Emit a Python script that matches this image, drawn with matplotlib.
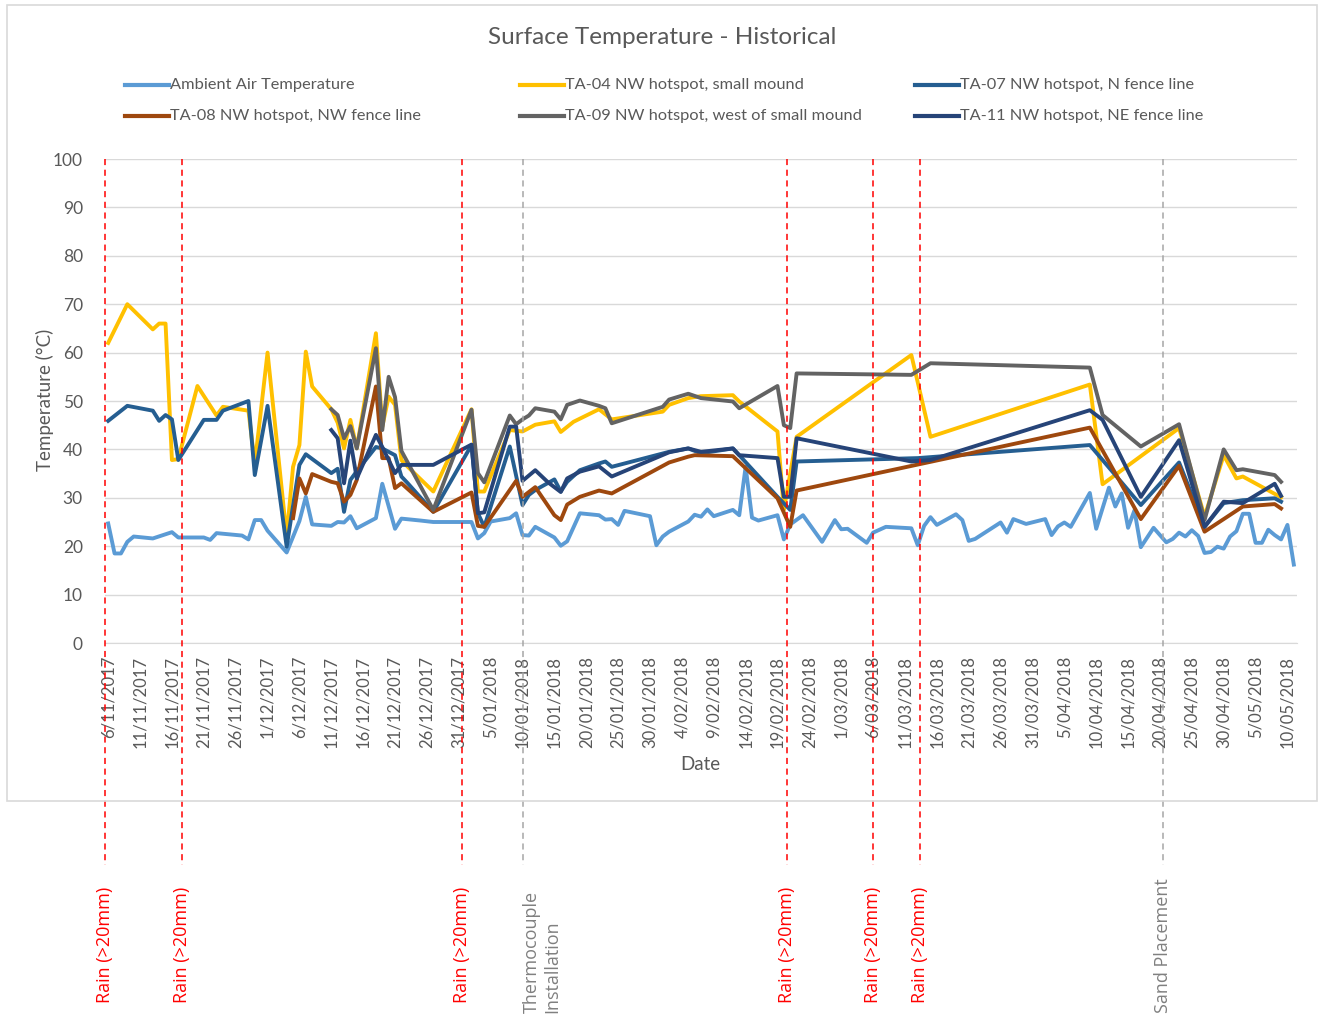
"""Surface temperature history with rain / site event markers."""

import matplotlib
matplotlib.use("Agg")
import matplotlib.pyplot as plt
import matplotlib.dates as mdates
import matplotlib.transforms as mtransforms
from matplotlib.lines import Line2D
from matplotlib.patches import Rectangle
import pandas as pd

plt.rcParams["font.family"] = ["Lato", "DejaVu Sans"]

W, H = 1320, 1015
TEXT_GREY = "#595959"

# --- data (date, deg C) ---
ambient = [
    ("2017-11-06", 24.7), ("2017-11-07", 18.5), ("2017-11-08", 18.5), ("2017-11-09", 20.9),
    ("2017-11-10", 22.0), ("2017-11-13", 21.6), ("2017-11-16", 22.9), ("2017-11-17", 21.8),
    ("2017-11-21", 21.8), ("2017-11-22", 21.3), ("2017-11-23", 22.7), ("2017-11-27", 22.2),
    ("2017-11-28", 21.4), ("2017-11-29", 25.4), ("2017-11-30", 25.4), ("2017-12-01", 23.2),
    ("2017-12-04", 18.7), ("2017-12-06", 25.2), ("2017-12-07", 30.2), ("2017-12-08", 24.5),
    ("2017-12-11", 24.2), ("2017-12-12", 25.0), ("2017-12-13", 24.9), ("2017-12-14", 26.2),
    ("2017-12-15", 23.7), ("2017-12-18", 25.8), ("2017-12-19", 32.9), ("2017-12-21", 23.6),
    ("2017-12-22", 25.7), ("2017-12-25", 25.3), ("2017-12-27", 25.0), ("2018-01-02", 25.0),
    ("2018-01-03", 21.6), ("2018-01-04", 22.7), ("2018-01-05", 25.1), ("2018-01-08", 25.8),
    ("2018-01-09", 26.8), ("2018-01-10", 22.3), ("2018-01-11", 22.2), ("2018-01-12", 24.0),
    ("2018-01-15", 21.8), ("2018-01-16", 20.1), ("2018-01-17", 21.0), ("2018-01-19", 26.8),
    ("2018-01-22", 26.4), ("2018-01-23", 25.5), ("2018-01-24", 25.6), ("2018-01-25", 24.4),
    ("2018-01-26", 27.3), ("2018-01-30", 26.2), ("2018-01-31", 20.2), ("2018-02-01", 22.0),
    ("2018-02-02", 23.0), ("2018-02-05", 25.1), ("2018-02-06", 26.5), ("2018-02-07", 26.1),
    ("2018-02-08", 27.6), ("2018-02-09", 26.2), ("2018-02-12", 27.5), ("2018-02-13", 26.4),
    ("2018-02-14", 36.4), ("2018-02-15", 25.9), ("2018-02-16", 25.3), ("2018-02-19", 26.4),
    ("2018-02-20", 21.4), ("2018-02-21", 24.5), ("2018-02-23", 26.4), ("2018-02-26", 20.9),
    ("2018-02-28", 25.4), ("2018-03-01", 23.5), ("2018-03-02", 23.6), ("2018-03-05", 20.7),
    ("2018-03-06", 22.8), ("2018-03-08", 24.0), ("2018-03-12", 23.7), ("2018-03-13", 20.2),
    ("2018-03-14", 24.2), ("2018-03-15", 26.0), ("2018-03-16", 24.4), ("2018-03-19", 26.6),
    ("2018-03-20", 25.4), ("2018-03-21", 21.1), ("2018-03-22", 21.5), ("2018-03-26", 24.9),
    ("2018-03-27", 22.8), ("2018-03-28", 25.6), ("2018-03-30", 24.6), ("2018-04-02", 25.6),
    ("2018-04-03", 22.3), ("2018-04-04", 24.1), ("2018-04-05", 24.9), ("2018-04-06", 24.0),
    ("2018-04-09", 31.0), ("2018-04-10", 23.6), ("2018-04-12", 32.1), ("2018-04-13", 28.2),
    ("2018-04-14", 30.9), ("2018-04-15", 23.8), ("2018-04-16", 27.4), ("2018-04-17", 19.8),
    ("2018-04-19", 23.8), ("2018-04-21", 20.8), ("2018-04-22", 21.5), ("2018-04-23", 22.8),
    ("2018-04-24", 22.0), ("2018-04-25", 23.3), ("2018-04-26", 22.1), ("2018-04-27", 18.6),
    ("2018-04-28", 18.8), ("2018-04-29", 19.9), ("2018-04-30", 19.5), ("2018-05-01", 22.0),
    ("2018-05-02", 23.1), ("2018-05-03", 26.7), ("2018-05-04", 26.7), ("2018-05-05", 20.7),
    ("2018-05-06", 20.7), ("2018-05-07", 23.4), ("2018-05-08", 22.3), ("2018-05-09", 21.4),
    ("2018-05-10", 24.4), ("2018-05-11", 16.2),
]

ta04 = [
    ("2017-11-06", 62.0), ("2017-11-09", 70.0), ("2017-11-13", 64.8), ("2017-11-14", 66.0),
    ("2017-11-15", 66.0), ("2017-11-16", 37.8), ("2017-11-17", 38.0), ("2017-11-20", 53.1),
    ("2017-11-23", 47.0), ("2017-11-24", 48.8), ("2017-11-28", 48.0), ("2017-11-29", 37.0),
    ("2017-12-01", 60.0), ("2017-12-04", 22.0), ("2017-12-05", 36.4), ("2017-12-06", 40.9),
    ("2017-12-07", 60.2), ("2017-12-08", 53.0), ("2017-12-11", 48.3), ("2017-12-12", 45.5),
    ("2017-12-13", 40.2), ("2017-12-14", 46.1), ("2017-12-15", 40.2), ("2017-12-18", 64.0),
    ("2017-12-19", 44.7), ("2017-12-20", 50.9), ("2017-12-21", 49.2), ("2017-12-22", 37.8),
    ("2017-12-23", 36.4), ("2017-12-27", 31.3), ("2018-01-02", 48.3), ("2018-01-03", 31.3),
    ("2018-01-04", 31.3), ("2018-01-08", 44.0), ("2018-01-10", 43.7), ("2018-01-12", 45.1),
    ("2018-01-15", 45.8), ("2018-01-16", 43.6), ("2018-01-18", 45.7), ("2018-01-22", 48.3),
    ("2018-01-24", 46.2), ("2018-02-01", 47.8), ("2018-02-02", 49.2), ("2018-02-05", 50.6),
    ("2018-02-07", 51.0), ("2018-02-12", 51.2), ("2018-02-13", 49.9), ("2018-02-19", 43.7),
    ("2018-02-20", 27.5), ("2018-02-22", 42.6), ("2018-03-12", 59.5), ("2018-03-15", 42.6),
    ("2018-04-09", 53.4), ("2018-04-11", 32.8), ("2018-04-23", 44.4), ("2018-04-27", 26.1),
    ("2018-04-30", 38.8), ("2018-05-02", 34.0), ("2018-05-03", 34.4), ("2018-05-09", 30.1),
]

ta07 = [
    ("2017-11-06", 45.9), ("2017-11-09", 49.0), ("2017-11-13", 48.0), ("2017-11-14", 45.9),
    ("2017-11-15", 47.1), ("2017-11-16", 46.2), ("2017-11-17", 37.8), ("2017-11-21", 46.1),
    ("2017-11-23", 46.1), ("2017-11-24", 48.0), ("2017-11-28", 50.0), ("2017-11-29", 34.7),
    ("2017-12-01", 49.0), ("2017-12-04", 19.9), ("2017-12-06", 36.8), ("2017-12-07", 39.0),
    ("2017-12-11", 35.1), ("2017-12-12", 36.0), ("2017-12-13", 27.1), ("2017-12-14", 33.7),
    ("2017-12-15", 35.5), ("2017-12-18", 40.5), ("2017-12-19", 40.2), ("2017-12-21", 38.8),
    ("2017-12-22", 34.4), ("2017-12-23", 33.0), ("2017-12-27", 27.1), ("2018-01-02", 40.9),
    ("2018-01-03", 26.8), ("2018-01-04", 24.0), ("2018-01-08", 40.6), ("2018-01-10", 28.5),
    ("2018-01-11", 30.6), ("2018-01-12", 31.6), ("2018-01-15", 33.8), ("2018-01-16", 31.3),
    ("2018-01-17", 33.3), ("2018-01-19", 35.7), ("2018-01-22", 37.1), ("2018-01-23", 37.5),
    ("2018-01-24", 36.4), ("2018-02-02", 39.5), ("2018-02-05", 40.2), ("2018-02-07", 39.2),
    ("2018-02-12", 40.2), ("2018-02-13", 38.8), ("2018-02-19", 30.2), ("2018-02-21", 27.5),
    ("2018-02-22", 37.5), ("2018-03-13", 38.2), ("2018-04-09", 40.9), ("2018-04-17", 28.5),
    ("2018-04-23", 37.3), ("2018-04-27", 24.0), ("2018-04-30", 28.9), ("2018-05-03", 29.5),
    ("2018-05-08", 29.9), ("2018-05-09", 29.2),
]

ta08 = [
    ("2017-12-05", 25.8), ("2017-12-06", 34.0), ("2017-12-07", 30.9), ("2017-12-08", 34.9),
    ("2017-12-11", 33.3), ("2017-12-12", 33.0), ("2017-12-13", 29.2), ("2017-12-14", 30.6),
    ("2017-12-15", 33.7), ("2017-12-18", 53.0), ("2017-12-19", 38.2), ("2017-12-20", 38.2),
    ("2017-12-21", 32.0), ("2017-12-22", 33.0), ("2017-12-27", 27.1), ("2018-01-02", 31.1),
    ("2018-01-03", 24.2), ("2018-01-04", 24.0), ("2018-01-09", 33.5), ("2018-01-10", 30.2),
    ("2018-01-12", 32.2), ("2018-01-15", 26.4), ("2018-01-16", 25.4), ("2018-01-17", 28.6),
    ("2018-01-19", 30.2), ("2018-01-22", 31.5), ("2018-01-24", 30.9), ("2018-02-02", 37.3),
    ("2018-02-05", 38.5), ("2018-02-06", 38.8), ("2018-02-12", 38.6), ("2018-02-19", 29.9),
    ("2018-02-21", 24.0), ("2018-02-22", 31.5), ("2018-04-09", 44.5), ("2018-04-17", 25.6),
    ("2018-04-23", 36.6), ("2018-04-27", 23.0), ("2018-05-03", 28.2), ("2018-05-08", 28.7),
    ("2018-05-09", 27.8),
]

ta09 = [
    ("2017-12-11", 48.3), ("2017-12-12", 47.1), ("2017-12-13", 42.3), ("2017-12-14", 44.8),
    ("2017-12-15", 40.2), ("2017-12-18", 60.9), ("2017-12-19", 44.0), ("2017-12-20", 55.0),
    ("2017-12-21", 50.8), ("2017-12-22", 39.7), ("2017-12-27", 27.5), ("2018-01-02", 48.2),
    ("2018-01-03", 35.1), ("2018-01-04", 33.2), ("2018-01-08", 47.0), ("2018-01-09", 45.2),
    ("2018-01-10", 46.2), ("2018-01-11", 47.0), ("2018-01-12", 48.5), ("2018-01-15", 47.8),
    ("2018-01-16", 46.2), ("2018-01-17", 49.2), ("2018-01-19", 50.1), ("2018-01-22", 49.0),
    ("2018-01-23", 48.5), ("2018-01-24", 45.4), ("2018-02-01", 48.8), ("2018-02-02", 50.3),
    ("2018-02-05", 51.5), ("2018-02-07", 50.6), ("2018-02-12", 49.9), ("2018-02-13", 48.5),
    ("2018-02-19", 53.1), ("2018-02-20", 45.0), ("2018-02-21", 44.4), ("2018-02-22", 55.7),
    ("2018-03-12", 55.4), ("2018-03-15", 57.8), ("2018-04-09", 56.9), ("2018-04-11", 47.1),
    ("2018-04-17", 40.6), ("2018-04-23", 45.2), ("2018-04-27", 25.4), ("2018-04-30", 40.0),
    ("2018-05-02", 35.7), ("2018-05-03", 35.9), ("2018-05-08", 34.7), ("2018-05-09", 33.3),
]

ta11 = [
    ("2017-12-11", 44.0), ("2017-12-12", 42.3), ("2017-12-13", 33.0), ("2017-12-14", 41.8),
    ("2017-12-15", 34.0), ("2017-12-18", 43.0), ("2017-12-19", 40.5), ("2017-12-21", 35.1),
    ("2017-12-22", 36.8), ("2017-12-27", 36.8), ("2018-01-02", 41.0), ("2018-01-03", 26.8),
    ("2018-01-04", 27.0), ("2018-01-08", 44.7), ("2018-01-09", 44.7), ("2018-01-10", 33.5),
    ("2018-01-12", 35.7), ("2018-01-14", 33.2), ("2018-01-16", 31.2), ("2018-01-17", 34.0),
    ("2018-01-19", 35.4), ("2018-01-22", 36.5), ("2018-01-24", 34.4), ("2018-02-02", 39.4),
    ("2018-02-05", 40.2), ("2018-02-07", 39.5), ("2018-02-12", 40.2), ("2018-02-13", 38.8),
    ("2018-02-19", 38.2), ("2018-02-20", 30.2), ("2018-02-21", 30.2), ("2018-02-22", 42.3),
    ("2018-03-12", 37.5), ("2018-03-15", 37.8), ("2018-04-09", 48.1), ("2018-04-11", 46.1),
    ("2018-04-17", 30.2), ("2018-04-23", 41.9), ("2018-04-27", 24.0), ("2018-04-30", 29.2),
    ("2018-05-03", 28.9), ("2018-05-08", 32.9), ("2018-05-09", 30.4),
]

series_names = [
    "Ambient Air Temperature",
    "TA-04 NW hotspot, small mound",
    "TA-07 NW hotspot, N fence line",
    "TA-08 NW hotspot, NW fence line",
    "TA-09 NW hotspot, west of small mound",
    "TA-11 NW hotspot, NE fence line",
]
series_data = [ambient, ta04, ta07, ta08, ta09, ta11]
series_colors = ["#5B9BD5", "#FFC000", "#255E91", "#9E480E", "#636363", "#264478"]

rain_dates = ["2017-11-05 12:00", "2017-11-17 14:00", "2017-12-31 12:00",
              "2018-02-20 12:00", "2018-03-06", "2018-03-13 10:00"]
rain_label = "Rain (>20mm)"
site_events = [("2018-01-10", "Thermocouple\nInstallation"),
               ("2018-04-20 10:00", "Sand Placement")]

x_start, x_end = "2017-11-05 12:00", "2018-05-11 12:00"
tick_dates = pd.date_range("2017-11-06", "2018-05-10", freq="5D")


def fx(px):
    return px / W


def fy(py):
    return 1 - py / H


fig = plt.figure(figsize=(W / 100, H / 100), dpi=100)
fig.patches.append(Rectangle((fx(7), fy(801)), fx(1317) - fx(7), fy(5) - fy(801),
                             transform=fig.transFigure, fill=False,
                             edgecolor="#D9D9D9", lw=1.2))

ax = fig.add_axes([fx(105), fy(643), fx(1297) - fx(105), fy(159) - fy(643)])

for name, pts, color in zip(series_names, series_data, series_colors):
    dates = pd.to_datetime([p[0] for p in pts])
    vals = [p[1] for p in pts]
    ax.plot(dates, vals, color=color, lw=2.8, solid_joinstyle="round", label=name)

ax.set_xlim(pd.Timestamp(x_start), pd.Timestamp(x_end))
ax.set_ylim(0, 100)
ax.set_yticks(range(0, 101, 10))
ax.set_xticks(tick_dates)
ax.set_xticklabels([f"{d.day}/{d.month:02d}/{d.year}" for d in tick_dates])
ax.tick_params(axis="x", length=0, pad=9, labelrotation=90, labelsize=12, colors=TEXT_GREY)
ax.tick_params(axis="y", length=0, pad=16, labelsize=12.5, colors=TEXT_GREY)
ax.grid(axis="y", color="#D9D9D9", lw=1)
ax.set_axisbelow(True)
for side in ["left", "right", "top"]:
    ax.spines[side].set_visible(False)
ax.spines["bottom"].set_color("#D9D9D9")
ax.spines["bottom"].set_zorder(0.5)

# event markers run from the plot top down below the chart frame
trans = mtransforms.blended_transform_factory(ax.transData, fig.transFigure)
for d in rain_dates:
    x = mdates.date2num(pd.Timestamp(d))
    ax.add_line(Line2D([x, x], [fy(159), fy(865)], transform=trans, color="#FF0000",
                       lw=1.1, ls=(0, (4, 3)), clip_on=False, zorder=6))
    ax.text(x, fy(1003), rain_label, transform=trans, rotation=90, ha="center",
            va="bottom", color="#FF0000", fontsize=13, family="Open Sans")
for d, label in site_events:
    x = mdates.date2num(pd.Timestamp(d))
    ax.add_line(Line2D([x, x], [fy(159), fy(865)], transform=trans, color="#A6A6A6",
                       lw=1.1, ls=(0, (4, 3)), clip_on=False, zorder=6))
    ax.text(x, fy(1013), label, transform=trans, rotation=90,
            ha="left" if "\n" in label else "center", va="bottom",
            multialignment="left", color="#808080", fontsize=13, family="Open Sans")

fig.text(fx(662), fy(38), "Surface Temperature - Historical", ha="center", va="center",
         fontsize=17.5, color=TEXT_GREY)
fig.text(fx(45), fy(400), "Temperature (°C)", rotation=90, ha="center", va="center",
         fontsize=13.5, color=TEXT_GREY)
fig.text(fx(700), fy(764), "Date", ha="center", va="center", fontsize=13.5, color=TEXT_GREY)

# legend laid out as Excel does: 3 equal-width columns, 2 rows
for i, (name, color) in enumerate(zip(series_names, series_colors)):
    x0 = 125 + 395 * (i % 3)
    y0 = 85 + 31 * (i // 3)
    fig.add_artist(Line2D([fx(x0), fx(x0 + 44)], [fy(y0), fy(y0)], color=color, lw=3,
                          transform=fig.transFigure))
    fig.text(fx(x0 + 45), fy(y0), name, ha="left", va="center", fontsize=11.8, color=TEXT_GREY)

fig.savefig("out.png", dpi=100)
